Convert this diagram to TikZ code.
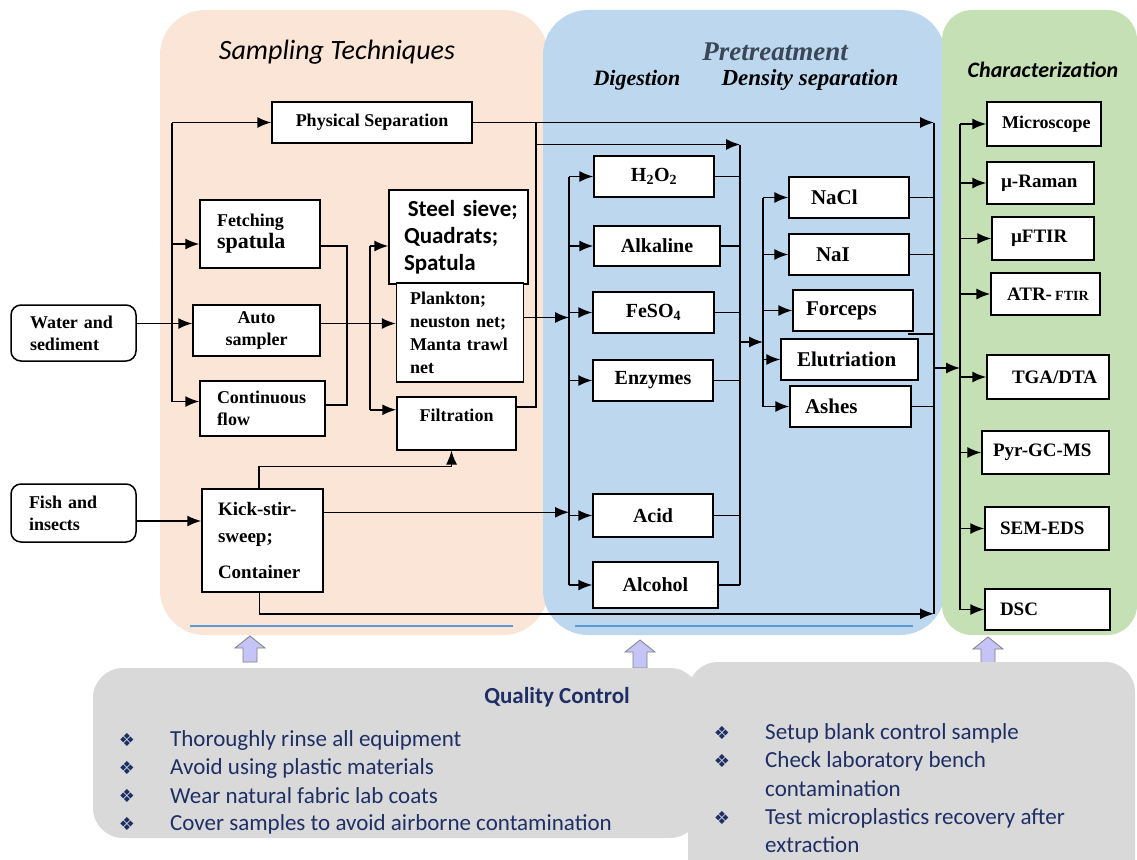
\documentclass[tikz,border=0pt]{standalone}
\usepackage{fontspec}
\setmainfont{Liberation Serif}
\newfontfamily\calibri{Carlito}
\newfontfamily\dejavu{DejaVu Sans}
\usetikzlibrary{arrows.meta}

\definecolor{peach}{HTML}{FBE5D6}
\definecolor{paleblue}{HTML}{BDD7EE}
\definecolor{palegreen}{HTML}{C5E0B4}
\definecolor{qcgrey}{HTML}{D9D9D9}
\definecolor{navy}{HTML}{1F2F66}
\definecolor{slate}{HTML}{3B4657}
\definecolor{rulecol}{HTML}{5B9BD5}
\definecolor{lavender}{HTML}{C4C4F6}

\begin{document}
\begin{tikzpicture} [x = 1pt, y = -1pt,
    box/.style = {draw, line width=1.5pt, fill=white, inner sep=0pt, font=\bfseries\fontsize{18}{22}\selectfont},
    lbox/.style = {box, align=left},
    cbox/.style = {box, align=center},
    ln/.style = {line width=1.5pt},
    arr/.style = {line width=1.5pt, -{Latex[length=14pt, width=11pt]}},
    qctxt/.style = {anchor=west, inner sep=0pt, text=navy, font=\calibri\fontsize{23}{27}\selectfont},
    qcbul/.style = {inner sep=0pt, text=navy, font=\dejavu\fontsize{18}{18}\selectfont},
    qarrow/.style = {fill=lavender, draw=gray, line width=0.8pt}]
      \useasboundingbox (0,0) rectangle (1137,859);

      % 背景
      \fill [peach, rounded corners=45] (160,10) rectangle (548,635);
      \fill [paleblue, rounded corners=45] (543,10) rectangle (945,635);
      \fill [palegreen, rounded corners=30] (942,10) rectangle (1137,635);
      \draw [rulecol, line width=1.5pt] (190,626) -- (513,626);
      \draw [rulecol, line width=1.5pt] (575,626) -- (913,626);

      % 見出し
      \node [font=\calibri\itshape\fontsize{28}{30}\selectfont] (samplingtitle) at (337,52) {Sampling Techniques};
      \node [text=slate, font=\bfseries\itshape\fontsize{27}{30}\selectfont] (pretitle) at (775,52) {Pretreatment};
      \node [font=\bfseries\itshape\fontsize{22}{24}\selectfont] (digtitle) at (637,80) {Digestion};
      \node [font=\bfseries\itshape\fontsize{23}{24}\selectfont] (denstitle) at (810,80) {Density separation};
      \node [font=\calibri\bfseries\itshape\fontsize{22}{24}\selectfont] (chartitle) at (1043,70) {Characterization};

      % 採取
      \node [lbox, rounded corners=10, minimum width=125, minimum height=56, text width=87] (water) at (73.5,333) {Water and\\sediment};
      \node [lbox, rounded corners=10, minimum width=125, minimum height=58, text width=89] (fish) at (73.5,513) {Fish and\\insects};
      \node [cbox, minimum width=200, minimum height=41] (physsep) at (372,122.5) {Physical Separation};
      \node [lbox, minimum width=120, minimum height=68, text width=86] (fetch) at (260,234) {{\fontsize{18}{20}\selectfont Fetching}\\{\fontsize{22}{24}\selectfont spatula}};
      \node [cbox, minimum width=127, minimum height=51] (auto) at (256.5,330.5) {Auto\\sampler};
      \node [lbox, minimum width=125, minimum height=55, text width=91] (contflow) at (262.5,408.5) {Continuous\\flow};
      \node [lbox, minimum width=139, minimum height=94, text width=109, font=\calibri\bfseries\fontsize{23}{27}\selectfont] (sieve) at (458.5,237) {\mbox{\,Steel sieve;}\\Quadrats;\\Spatula};
      \node [lbox, minimum width=127, minimum height=99, text width=100, font=\bfseries\fontsize{18}{23}\selectfont] (plankton) at (460,332.5) {Plankton;\\neuston net;\\\mbox{Manta trawl}\\net};
      \node [box, anchor=north, minimum width=119, text height=25pt, text depth=28pt] (filtration) at (456.5,396) {Filtration};
      \node [lbox, minimum width=121, minimum height=103, text width=89, font=\bfseries\fontsize{19}{27}\selectfont] (kick) at (262.5,540.5) {Kick-stir-\\sweep;\\[9pt]Container};

      % 前処理
      \node [cbox, minimum width=120, minimum height=41, font=\bfseries\fontsize{20}{22}\selectfont] (h2o2) at (654,176.5) {H\textsubscript{2}O\textsubscript{2}};
      \node [cbox, minimum width=126, minimum height=40, font=\bfseries\fontsize{20}{22}\selectfont] (alkaline) at (657,246) {Alkaline};
      \node [cbox, minimum width=121, minimum height=41, font=\bfseries\fontsize{20}{22}\selectfont] (feso4) at (653.5,312.5) {FeSO\textsubscript{4}};
      \node [cbox, minimum width=120, minimum height=41, font=\bfseries\fontsize{20}{22}\selectfont] (enzymes) at (653,380.5) {Enzymes};
      \node [cbox, minimum width=120, minimum height=43, font=\bfseries\fontsize{20}{22}\selectfont] (acid) at (653,515.5) {Acid};
      \node [cbox, minimum width=125, minimum height=46, font=\bfseries\fontsize{20}{22}\selectfont] (alcohol) at (655.5,585) {Alcohol};

      \node [lbox, minimum width=120, minimum height=41, text width=76, font=\bfseries\fontsize{21}{24}\selectfont] (nacl) at (849,197.5) {NaCl};
      \node [lbox, minimum width=120, minimum height=41, text width=66, font=\bfseries\fontsize{21}{24}\selectfont] (nai) at (849,254.5) {NaI};
      \node [lbox, minimum width=120, minimum height=41, text width=94, font=\bfseries\fontsize{21}{24}\selectfont] (forceps) at (853,310.5) {Forceps};
      \node [lbox, minimum width=137, minimum height=41, text width=105, font=\bfseries\fontsize{21}{24}\selectfont] (elutriation) at (849.5,359.5) {Elutriation};
      \node [lbox, minimum width=121, minimum height=41, text width=91, font=\bfseries\fontsize{21}{24}\selectfont] (ashes) at (850.5,406.5) {Ashes};

      % 分析
      \node [lbox, minimum width=114, minimum height=44, text width=84] (microscope) at (1044,124) {Microscope};
      \node [lbox, minimum width=107, minimum height=42, text width=79, font=\bfseries\fontsize{19}{22}\selectfont] (raman) at (1040.5,183) {µ-Raman};
      \node [lbox, minimum width=102, minimum height=43, text width=64, font=\bfseries\fontsize{19}{22}\selectfont] (uftir) at (1043,238.5) {µFTIR};
      \node [lbox, minimum width=109, minimum height=42, text width=77, font=\bfseries\fontsize{19}{22}\selectfont] (atrftir) at (1045.5,294) {\mbox{ATR-\,{\fontsize{14}{14}\selectfont FTIR}}};
      \node [lbox, minimum width=122, minimum height=44, text width=72, font=\bfseries\fontsize{19}{22}\selectfont] (tgadta) at (1048,377) {TGA/DTA};
      \node [lbox, minimum width=127, minimum height=43, text width=105, font=\bfseries\fontsize{19}{22}\selectfont] (pyrgcms) at (1045.5,452.5) {Pyr-GC-MS};
      \node [lbox, minimum width=124, minimum height=43, text width=94, font=\bfseries\fontsize{19}{22}\selectfont] (semeds) at (1047,528.5) {SEM-EDS};
      \node [lbox, minimum width=125, minimum height=41, text width=95, font=\bfseries\fontsize{19}{22}\selectfont] (dsc) at (1047.5,609.5) {DSC};

      % 幹線
      \coordinate (sA) at (172,0);
      \coordinate (sB) at (347,0);
      \coordinate (sC) at (370,0);
      \coordinate (sD) at (536,0);
      \coordinate (dT) at (569,0);
      \coordinate (dC) at (740,0);
      \coordinate (eT) at (763,0);
      \coordinate (eC) at (934,0);
      \coordinate (gT) at (960,0);
      \coordinate (dOut) at (740,342);
      \coordinate (eOut) at (934,368);

      % 採取の線
      \draw [ln] (sA |- physsep.west) -- ([yshift=7pt]contflow.west -| sA);
      \draw [arr] (sA |- physsep.west) -- (physsep.west);
      \draw [arr] ([yshift=-10pt]fetch.west -| sA) -- ([yshift=-10pt]fetch.west);
      \draw [arr] ([yshift=7pt]contflow.west -| sA) -- ([yshift=7pt]contflow.west);
      \draw [arr] ([yshift=7pt]auto.west -| water.east) -- ([yshift=7pt]auto.west);
      \draw [ln] ([yshift=-12pt]fetch.east) -| ([yshift=3.5pt]contflow.east -| sB) -- ([yshift=3.5pt]contflow.east);
      \draw [arr] ([yshift=7pt]auto.east) -- ([yshift=7pt]auto.east -| plankton.west);
      \draw [ln] ([yshift=-9pt]sieve.west -| sC) -- ([yshift=13.5pt]filtration.west -| sC);
      \draw [arr] ([yshift=-9pt]sieve.west -| sC) -- ([yshift=-9pt]sieve.west);
      \draw [arr] ([yshift=13.5pt]filtration.west -| sC) -- ([yshift=13.5pt]filtration.west);
      \draw [arr] (physsep.east) -- (physsep.east -| eC);
      \draw [ln] (physsep.east -| sD) -- ([yshift=16.5pt]filtration.east -| sD) -- ([yshift=16.5pt]filtration.east);
      \draw [arr] ([yshift=-22pt]physsep.east -| sD) -- ([yshift=-22pt]physsep.east -| dC);
      \draw [arr] ([yshift=15pt]plankton.east) -- ([yshift=15pt]plankton.east -| dT);
      \draw [arr] ([yshift=-8pt]fish.east) -- ([yshift=-8pt]fish.east -| kick.west);
      \draw [arr] ([xshift=-3.5pt]kick.north) -- ++(0,-22) -| ([xshift=-5pt]filtration.south);
      \draw [arr] ([yshift=-24pt]kick.north east) -- ([yshift=-24pt]kick.north east -| dT);
      \draw [arr] ([xshift=-3pt]kick.south) |- ([yshift=-21pt]kick.south -| eC);

      % 前処理の線
      \draw [ln] (dT |- h2o2.west) -- (dT |- alcohol.west);
      \foreach \n in {h2o2, alkaline, feso4, enzymes, acid, alcohol} {
        \draw [arr] (dT |- \n.west) -- (\n.west);
        \draw [ln] (\n.east) -- (\n.east -| dC);
      }
      \draw [ln] ([yshift=-22pt]physsep.east -| dC) -- (alcohol.east -| dC);
      \draw [arr] (dOut) -- (dOut -| eT);

      \draw [ln] (eT |- nacl.west) -- (eT |- ashes.west);
      \foreach \n in {nacl, nai, forceps, elutriation, ashes}
        \draw [arr] (eT |- \n.west) -- (\n.west);
      \foreach \n in {nacl, nai, ashes}
        \draw [ln] (\n.east) -- (\n.east -| eC);
      \draw [ln] ([xshift=-6pt, yshift=-2pt]forceps.south east) -- ([yshift=-2pt]forceps.south east -| eC);
      \draw [ln] (physsep.east -| eC) -- ([yshift=-21pt]kick.south -| eC);
      \draw [arr] (eOut) -- (eOut -| gT);

      % 分析の線
      \draw [ln] (gT |- microscope.west) -- (gT |- dsc.west);
      \foreach \n in {microscope, raman, uftir, atrftir, tgadta, pyrgcms, semeds, dsc}
        \draw [arr] (gT |- \n.west) -- (\n.west);

      % 品質管理
      \foreach \x/\yt/\yb in {250/636/662, 640/640/668, 988/637/663}
        \draw [qarrow] (\x-7,\yb) -- (\x-7,\yt+12) -- (\x-15,\yt+12) -- (\x,\yt) -- (\x+15,\yt+12) -- (\x+7,\yt+12) -- (\x+7,\yb) -- cycle;
      \fill [qcgrey, rounded corners=30] (93,668) rectangle (700,838);
      \fill [qcgrey, rounded corners=30] (688,662) rectangle (1135,900);
      \node [text=navy, font=\calibri\bfseries\fontsize{23}{27}\selectfont] (qctitle) at (557,697) {Quality Control};

      \foreach \t [count=\i] in {Thoroughly rinse all equipment, Avoid using plastic materials, Wear natural fabric lab coats, Cover samples to avoid airborne contamination} {
        \node [qcbul] (lb\i) at (127,712+28*\i) {❖};
        \node [qctxt] (lt\i) at (170,712+28*\i) {\t};
      }
      \node [qcbul] (rb1) at (722,733) {❖};
      \node [qctxt] (rt1) at (765,733) {Setup blank control sample};
      \node [qcbul] (rb2) at (722,761) {❖};
      \node [qctxt] (rt2) at (765,761) {Check laboratory bench};
      \node [qctxt] (rt3) at (765,789) {contamination};
      \node [qcbul] (rb3) at (722,818) {❖};
      \node [qctxt] (rt4) at (765,818) {Test microplastics recovery after};
      \node [qctxt] (rt5) at (765,845) {extraction};
    \end{tikzpicture}
\end{document}
